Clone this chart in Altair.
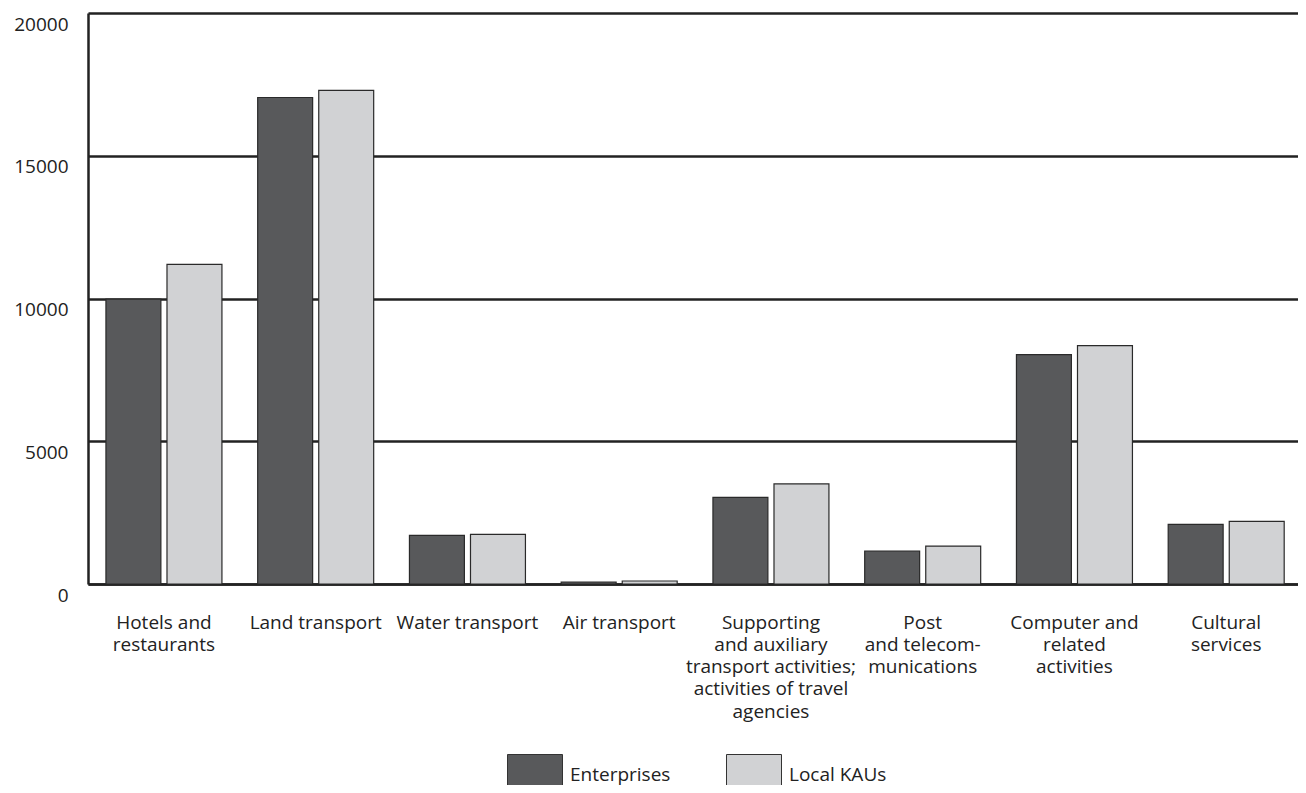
import altair as alt
import pandas as pd

categories = [
    "Hotels and|restaurants",
    "Land transport",
    "Water transport",
    "Air transport",
    "Supporting|and auxiliary|transport activities;|activities of travel|agencies",
    "Post|and telecom-|munications",
    "Computer and|related|activities",
    "Cultural|services",
]
series = ["Enterprises", "Local KAUs"]
enterprises = [9980, 17040, 1705, 70, 3035, 1155, 8035, 2090]
local_kaus = [11195, 17290, 1740, 105, 3505, 1330, 8350, 2195]
y_ticks = [0, 5000, 10000, 15000, 20000]
colors = ["#58595b", "#d1d2d4"]

rows = []
for c, e, l in zip(categories, enterprises, local_kaus):
    rows.append({"category": c, "series": series[0], "value": e})
    rows.append({"category": c, "series": series[1], "value": l})
df = pd.DataFrame(rows)

FONT = "Open Sans"
# tall swatch (cut by the bottom edge, as in the reference)
SWATCH = "M-1,-0.727L1,-0.727L1,1.2L-1,1.2Z"

chart = alt.Chart(df).mark_bar(stroke="#2a2a2a", strokeWidth=1.2).encode(
    x=alt.X(
        "category:N",
        sort=categories,
        scale=alt.Scale(paddingInner=0.2356, paddingOuter=0.1046, align=0.565),
        axis=alt.Axis(
            title=None,
            labelAngle=0,
            labelExpr="split(datum.label, '|')",
            labelFontSize=19,
            labelLineHeight=22.3,
            labelPadding=29,
            labelLimit=0,
            labelColor="#222222",
            labelFont=FONT,
            ticks=False,
            domainColor="#222222",
            domainWidth=2.5,
            labelBaseline="top",
        ),
    ),
    xOffset=alt.XOffset(
        "series:N",
        sort=series,
        scale=alt.Scale(paddingInner=0.1, paddingOuter=0),
    ),
    y=alt.Y(
        "value:Q",
        scale=alt.Scale(domain=[0, 20000], nice=False),
        axis=alt.Axis(
            title=None,
            values=y_ticks,
            format="d",
            labelFontSize=19,
            labelFont=FONT,
            labelColor="#222222",
            labelPadding=20,
            labelBaseline="middle",
            labelOffset=11,
            ticks=False,
            grid=True,
            gridColor="#222222",
            gridWidth=2.5,
            domainColor="#222222",
            domainWidth=2.5,
        ),
    ),
    color=alt.Color(
        "series:N",
        sort=series,
        scale=alt.Scale(domain=series, range=colors),
        legend=alt.Legend(
            title=None,
            orient="none",
            legendX=419,
            legendY=733.5,
            direction="horizontal",
            symbolType=SWATCH,
            symbolSize=3025,
            symbolStrokeColor="#333333",
            symbolStrokeWidth=1,
            symbolOpacity=1,
            labelFontSize=19,
            labelFont=FONT,
            labelColor="#222222",
            labelOffset=7,
            columnPadding=53,
            padding=0,
        ),
    ),
).properties(
    width=1210,
    height=571,
    autosize=alt.AutoSizeParams(type="none"),
    padding={"left": 80, "top": 5, "right": 0, "bottom": 201},
).configure_view(stroke=None).configure(background="white")

chart.save("out.html", embed_options={"renderer": "svg", "actions": False})
